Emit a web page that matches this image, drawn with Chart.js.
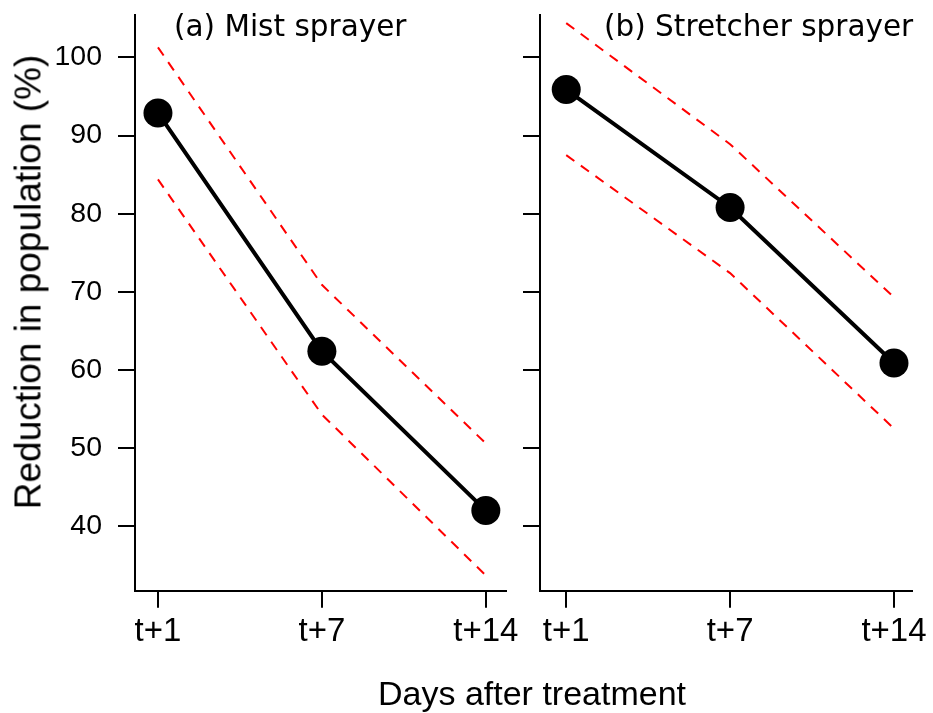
<!DOCTYPE html>
<html>
<head>
<meta charset="utf-8">
<script src="https://cdn.jsdelivr.net/npm/chart.js@4"></script>
<style>
  html, body { margin: 0; padding: 0; background: #fff; }
  #page { position: relative; width: 933px; height: 713px; overflow: hidden; }
  .panel { position: absolute; top: 0; height: 713px; }
  .txt { position: absolute; white-space: nowrap; color: #000; line-height: 1; }
  .ptitle { font-family: "DejaVu Sans", Verdana, sans-serif; font-size: 29.5px; top: 12px; }
  #ytitle { font-family: "Liberation Sans", Arial, sans-serif; font-size: 37px;
            left: 28px; top: 282px; transform: translate(-50%, -50%) rotate(-90deg); }
  #xtitle { font-family: "Liberation Sans", Arial, sans-serif; font-size: 34px;
            left: 532px; top: 676px; transform: translateX(-50%); }
</style>
</head>
<body>
<div id="page">
  <div class="panel" style="left:0; width:520px;"><canvas id="mistChart"></canvas></div>
  <div class="panel" style="left:520px; width:413px;"><canvas id="stretcherChart"></canvas></div>
  <div class="txt ptitle" style="left:174px;">(a) Mist sprayer</div>
  <div class="txt ptitle" style="left:604px;">(b) Stretcher sprayer</div>
  <div class="txt" id="ytitle">Reduction in population (%)</div>
  <div class="txt" id="xtitle">Days after treatment</div>
</div>

<script>
// values
const days = ['t+1', 't+7', 't+14'];
const yTicks = [40, 50, 60, 70, 80, 90, 100];

const mistMean  = [92.9, 62.4, 42.0];
const mistUpper = [101.3, 70.9, 50.6];
const mistLower = [84.4, 54.3, 33.7];

const stretcherMean  = [95.9, 80.8, 60.9];
const stretcherUpper = [104.4, 88.9, 69.3];
const stretcherLower = [87.5, 72.4, 52.5];

const FONT = 'Liberation Sans, Arial, sans-serif';

function toPoints(arr) {
  return arr.map((v, i) => ({ x: i, y: v }));
}

function bandLine(arr) {
  return {
    data: toPoints(arr),
    borderColor: '#ff0000',
    borderWidth: 2,
    borderDash: [10, 8],
    pointRadius: 0,
    fill: false,
    tension: 0,
    clip: false
  };
}

function makePanel(id, mean, upper, lower, opts) {
  const ctx = document.getElementById(id).getContext('2d');
  const axisLine = { display: true, color: '#000', width: 2 };
  const tickMarks = { drawOnChartArea: false, drawTicks: true, tickLength: 17, color: '#000', lineWidth: 2 };

  return new Chart(ctx, {
    type: 'line',
    data: {
      datasets: [
        bandLine(upper),
        bandLine(lower),
        {
          data: toPoints(mean),
          borderColor: '#000',
          borderWidth: 4,
          pointRadius: 14.5,
          pointBackgroundColor: '#000',
          pointBorderWidth: 0,
          fill: false,
          tension: 0,
          clip: false
        }
      ]
    },
    options: {
      responsive: true,
      maintainAspectRatio: false,
      animation: false,
      layout: { padding: { top: 9, right: opts.padRight, left: 0, bottom: 0 } },
      plugins: { legend: { display: false }, tooltip: { enabled: false } },
      scales: {
        x: {
          type: 'linear',
          min: opts.xMin,
          max: opts.xMax,
          afterBuildTicks: s => { s.ticks = days.map((d, i) => ({ value: i })); },
          afterFit: s => {
            s.height = 122.3;
            s.paddingLeft = 0; s.paddingRight = 0;
          },
          grid: tickMarks,
          border: axisLine,
          ticks: {
            callback: v => days[v],
            color: '#000',
            font: { family: FONT, size: 33 },
            padding: 4,
            maxRotation: 0,
            autoSkip: false
          }
        },
        y: {
          min: 31.75,
          max: 105.5,
          afterBuildTicks: s => { s.ticks = yTicks.map(v => ({ value: v })); },
          afterFit: s => {
            s.width = opts.yWidth;
            s.paddingTop = 0; s.paddingBottom = 0;
          },
          grid: tickMarks,
          border: axisLine,
          ticks: {
            display: opts.yLabels,
            color: '#000',
            font: { family: FONT, size: 28.5 },
            padding: 16
          }
        }
      }
    }
  });
}

makePanel('mistChart', mistMean, mistUpper, mistLower,
  { xMin: -0.14, xMax: 2.12, yWidth: 135, padRight: 13, yLabels: true });
makePanel('stretcherChart', stretcherMean, stretcherUpper, stretcherLower,
  { xMin: -0.16, xMax: 2.11, yWidth: 20, padRight: 21, yLabels: false });
</script>
</body>
</html>
